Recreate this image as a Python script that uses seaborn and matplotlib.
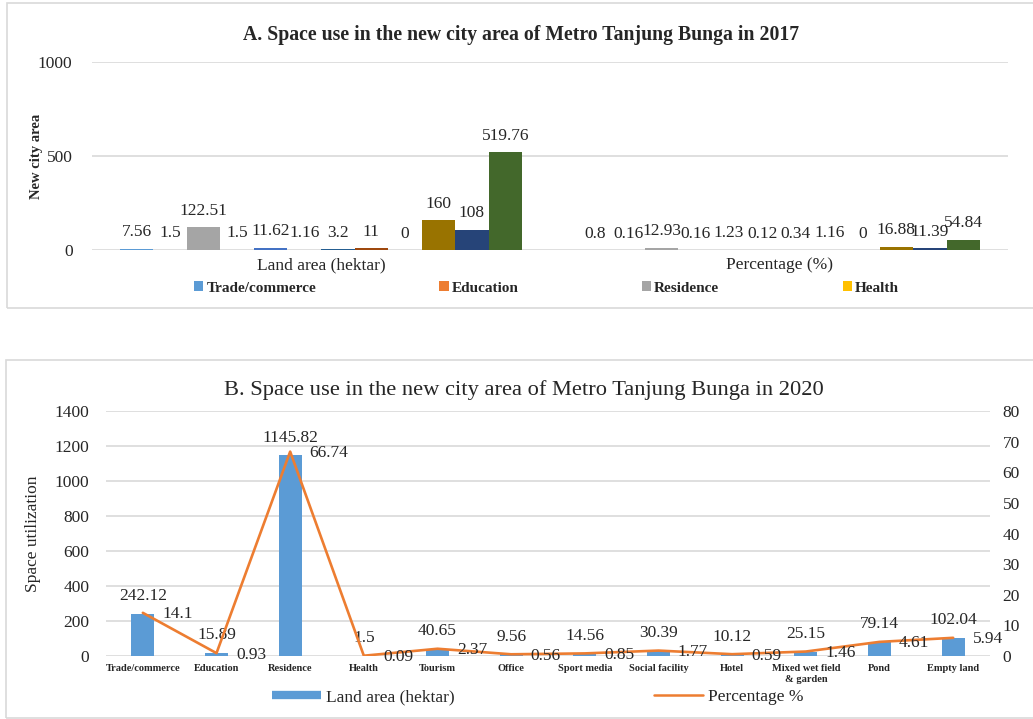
import numpy as np
import pandas as pd
import matplotlib
matplotlib.use("Agg")
import matplotlib.pyplot as plt
from matplotlib.patches import Rectangle
from matplotlib.lines import Line2D
import seaborn as sns

sns.set_theme(style="white")
plt.rcParams["font.family"] = ["Liberation Serif", "DejaVu Serif"]

# ---- data ----
uses = ["Trade/commerce", "Education", "Residence", "Health", "Tourism", "Office",
        "Sport media", "Social facility", "Hotel", "Mixed wet field\n& garden",
        "Pond", "Empty land"]
groups_2017 = ["Land area (hektar)", "Percentage (%)"]
land_2017 = [7.56, 1.5, 122.51, 1.5, 11.62, 1.16, 3.2, 11, 0, 160, 108, 519.76]
pct_2017 = [0.8, 0.16, 12.93, 0.16, 1.23, 0.12, 0.34, 1.16, 0, 16.88, 11.39, 54.84]

land_2020 = [242.12, 15.89, 1145.82, 1.5, 40.65, 9.56, 14.56, 30.39, 10.12, 25.15, 79.14, 102.04]
pct_2020 = [14.1, 0.93, 66.74, 0.09, 2.37, 0.56, 0.85, 1.77, 0.59, 1.46, 4.61, 5.94]

excel = ["#5B9BD5", "#ED7D31", "#A5A5A5", "#FFC000", "#4472C4", "#70AD47",
         "#255E91", "#9E480E", "#636363", "#997300", "#264478", "#43682B"]
grid_c = "#D9D9D9"

W, H = 1033, 719
fig = plt.figure(figsize=(W / 100, H / 100), dpi=100)

def fx(px):
    return px / W

def fy(py):
    return (H - py) / H

# panel frames
fig.patches.append(Rectangle((fx(7), fy(308)), fx(1040 - 7), (308 - 3) / H,
                             transform=fig.transFigure, fill=False, edgecolor=grid_c, lw=1.2))
fig.patches.append(Rectangle((fx(6), fy(718)), fx(1040 - 6), (718 - 360) / H,
                             transform=fig.transFigure, fill=False, edgecolor=grid_c, lw=1.2))

# ---- A: 2017 grouped bars ----
df17 = pd.DataFrame({
    "group": np.repeat(groups_2017, len(uses)),
    "use": uses * 2,
    "value": land_2017 + pct_2017,
})
ax1 = fig.add_axes([fx(92), fy(250), fx(1008 - 92), (250 - 62) / H])
sns.barplot(data=df17, x="group", y="value", hue="use", hue_order=uses,
            palette=excel, width=0.878, linewidth=0, saturation=1, ax=ax1, legend=True)
for c in ax1.containers:
    ax1.bar_label(c, fmt="{:g}", padding=6, fontsize=12.5)
ax1.set_ylim(0, 1000)
ax1.set_yticks([0, 500, 1000])
ax1.set_xlim(-0.5, 1.5)
ax1.grid(axis="y", color=grid_c, lw=1.2)
ax1.set_axisbelow(True)
sns.despine(ax=ax1, left=True, bottom=True)
ax1.tick_params(axis="y", labelsize=12.5, length=0, pad=14)
ax1.tick_params(axis="x", labelsize=12.5, length=0, pad=5)
ax1.set_xlabel("")
ax1.set_ylabel("New city area", fontsize=10.5, fontweight="bold")
ax1.yaxis.set_label_coords((43 - 92) / 916, 0.5)
handles, labels = ax1.get_legend_handles_labels()
ax1.get_legend().remove()
fig.legend(handles[:4], labels[:4], ncol=4, mode="expand", loc="center",
           bbox_to_anchor=(fx(188), fy(288), fx(905 - 188), 0.0), frameon=False,
           prop={"weight": "bold", "size": 11}, handlelength=0.6, handleheight=0.6,
           handletextpad=0.2, borderaxespad=0)
fig.text(fx(521), fy(35), "A. Space use in the new city area of Metro Tanjung Bunga in 2017",
         ha="center", va="center", fontsize=14.2, fontweight="bold")

# ---- B: 2020 bars + percentage line ----
df20 = pd.DataFrame({"use": uses, "land": land_2020, "pct": pct_2020})
ax2 = fig.add_axes([fx(106), fy(656), fx(990 - 106), (656 - 411) / H])
sns.barplot(data=df20, x="use", y="land", color=excel[0], saturation=1,
            width=0.31, linewidth=0, ax=ax2)
ax2.bar_label(ax2.containers[0], fmt="{:g}", padding=7, fontsize=12.5)
ax2.set_ylim(0, 1400)
ax2.set_yticks(range(0, 1401, 200))
ax2.set_xlim(-0.5, len(uses) - 0.5)
ax2.grid(axis="y", color=grid_c, lw=1.2)
ax2.set_axisbelow(True)
sns.despine(ax=ax2, left=True, bottom=True, right=True, top=True)
ax2.tick_params(axis="y", labelsize=12.5, length=0, pad=12)
ax2.tick_params(axis="x", labelsize=7.5, length=0, pad=6)
for t in ax2.get_xticklabels():
    t.set_fontweight("bold")
ax2.set_xlabel("")
ax2.set_ylabel("Space utilization", fontsize=12.5)
ax2.yaxis.set_label_coords((41 - 106) / 884, 0.5)

ax3 = ax2.twinx()
xs = np.arange(len(uses))
sns.lineplot(x=xs, y=pct_2020, color=excel[1], lw=1.9, sort=False, ax=ax3)
for xi, p in zip(xs, pct_2020):
    ax3.annotate(f"{p:g}", (xi, p), xytext=(14, -1), textcoords="offset points",
                 ha="left", va="center", fontsize=12.5)
ax3.set_ylim(0, 80)
ax3.set_yticks(range(0, 81, 10))
sns.despine(ax=ax3, left=True, bottom=True, right=True, top=True)
ax3.tick_params(axis="y", labelsize=12.5, length=0, pad=9)
ax3.set_ylabel("")

leg_h = [Line2D([], [], color=excel[0], lw=6, solid_capstyle="butt"),
         Line2D([], [], color=excel[1], lw=1.8)]
fig.legend(leg_h, ["Land area (hektar)", "Percentage %"], ncol=2, loc="center",
           bbox_to_anchor=(fx(538), fy(697)), frameon=False, fontsize=12.5,
           handlelength=2.8, handletextpad=0.3, columnspacing=11.5)
fig.text(fx(524), fy(390), "B. Space use in the new city area of Metro Tanjung Bunga in 2020",
         ha="center", va="center", fontsize=16.2)

fig.savefig("out.png", dpi=100, facecolor="white")
